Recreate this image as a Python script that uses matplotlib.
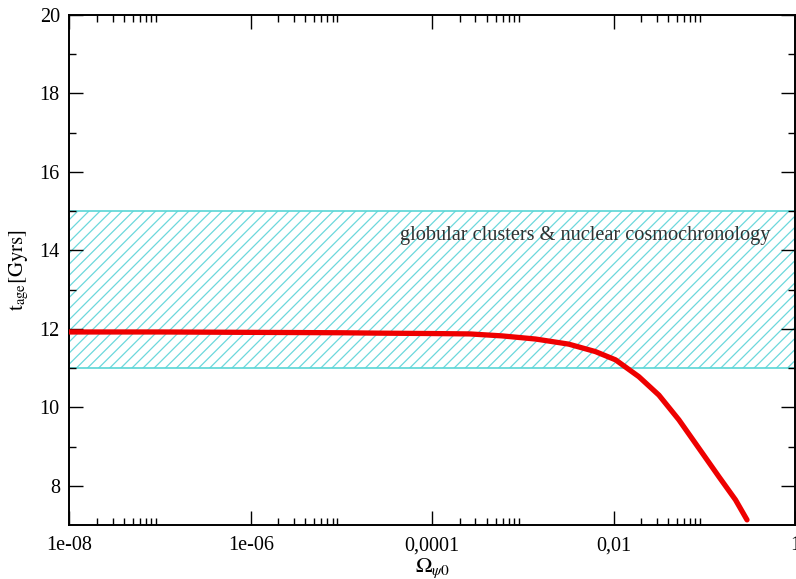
import matplotlib
matplotlib.use("Agg")
import matplotlib.pyplot as plt
from matplotlib.ticker import FixedLocator, FixedFormatter

plt.rcParams['font.family'] = ['Liberation Serif', 'DejaVu Serif']
plt.rcParams['mathtext.fontset'] = 'stix'
plt.rcParams['hatch.linewidth'] = 0.9

# age of the universe vs omega_psi0
omega = [1e-8, 1e-7, 1e-6, 1e-5, 2.6e-5, 1e-4, 2.6e-4, 5.9e-4, 1.38e-3,
         3.2e-3, 6.3e-3, 1.05e-2, 1.9e-2, 3.16e-2, 5.25e-2, 8.7e-2,
         0.145, 0.221, 0.296]
t_age = [11.92, 11.92, 11.91, 11.90, 11.89, 11.88, 11.87, 11.82, 11.74,
         11.61, 11.42, 11.21, 10.78, 10.31, 9.68, 8.96,
         8.23, 7.64, 7.13]

# observational band
band_low, band_high = 11, 15
band_label = "globular clusters & nuclear cosmochronology"

xticks = [1e-8, 1e-6, 1e-4, 1e-2, 1]
xtick_labels = ["1e-08", "1e-06", "0,0001", "0,01", "1"]
yticks = [8, 10, 12, 14, 16, 18, 20]

fig = plt.figure(figsize=(7.96, 5.79), dpi=100)
ax = fig.add_axes([0.0873, 0.0933, 0.9114, 0.8808])

ax.set_xscale('log')
ax.set_xlim(1e-8, 1)
ax.set_ylim(7, 20)

# hatched band
ax.axhspan(band_low, band_high, facecolor='none', edgecolor='#6cd8dc',
           hatch='///', linewidth=0, zorder=1)
ax.axhline(band_low, color='#5ad6d6', lw=1.2, zorder=1)
ax.axhline(band_high, color='#5ad6d6', lw=1.2, zorder=1)
ax.text(4.8e-3, 14.37, band_label, ha='center', va='center',
        fontsize=14.6, color='#303030', zorder=2)

ax.plot(omega, t_age, color='#ee0000', lw=3.8, solid_capstyle='round',
        solid_joinstyle='round', zorder=3)

# ticks, xmgrace style
ax.xaxis.set_major_locator(FixedLocator(xticks))
ax.xaxis.set_major_formatter(FixedFormatter(xtick_labels))
minor_x = [k * 10.0**e for e in (-8, -6, -4, -2) for k in range(2, 10)]
ax.xaxis.set_minor_locator(FixedLocator(minor_x))
ax.xaxis.set_minor_formatter(FixedFormatter([""] * len(minor_x)))
ax.set_yticks(yticks)
ax.set_yticks([9, 11, 13, 15, 17, 19], minor=True)

ax.tick_params(which='both', direction='in', top=True, right=True,
               labelsize=14.5, width=1.0, color='black')
ax.tick_params(which='major', length=10)
ax.tick_params(axis='x', which='major', pad=8)
ax.tick_params(axis='y', which='major', pad=7)
ax.tick_params(which='minor', length=5)
for s in ax.spines.values():
    s.set_linewidth(1.4)

ax.set_xlabel(r'$\Omega_{\psi0}$', fontsize=16, labelpad=1)
ax.set_ylabel(r'$\mathrm{t}_{\mathrm{age}}\mathrm{[Gyrs]}$', fontsize=15, labelpad=6)

fig.savefig("out.png", dpi=100)
